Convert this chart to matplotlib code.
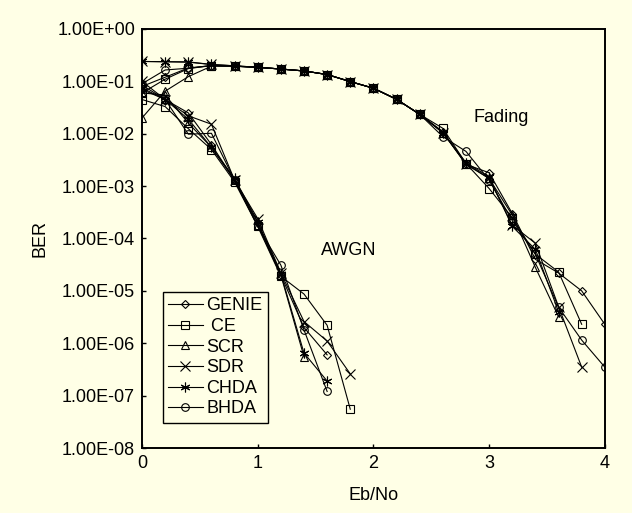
import matplotlib
matplotlib.use('Agg')
import matplotlib.pyplot as plt

# Eb/No points
x_awgn = [0.0, 0.2, 0.4, 0.6, 0.8, 1.0, 1.2, 1.4, 1.6, 1.8]
x_fad = [0.0, 0.2, 0.4, 0.6, 0.8, 1.0, 1.2, 1.4, 1.6, 1.8, 2.0,
         2.2, 2.4, 2.6, 2.8, 3.0, 3.2, 3.4, 3.6, 3.8, 4.0]

# AWGN channel
genie_awgn = [0.085, 0.045, 0.025, 0.0062, 0.0013, 2.0e-4, 2.0e-5, 2.0e-6, 6.0e-7]
ce_awgn = [0.045, 0.033, 0.0125, 0.005, 0.0012, 1.7e-4, 1.9e-5, 8.7e-6, 2.2e-6, 5.5e-8]
scr_awgn = [0.06, 0.055, 0.016, 0.0055, 0.0013, 1.8e-4, 2.0e-5, 5.5e-7]
sdr_awgn = [0.1, 0.045, 0.022, 0.0152, 0.0013, 2.4e-4, 2.2e-5, 2.6e-6, 1.1e-6, 2.6e-7]
chda_awgn = [0.075, 0.045, 0.019, 0.0055, 0.0014, 2.1e-4, 2.1e-5, 6.5e-7, 1.9e-7]
bhda_awgn = [0.07, 0.045, 0.0098, 0.0102, 0.0013, 1.7e-4, 3.1e-5, 1.8e-6, 1.2e-7]

# Fading channel
genie_fad = [0.08, 0.12, 0.18, 0.2, 0.195, 0.185, 0.172, 0.158, 0.135, 0.099, 0.074,
             0.0454, 0.0235, 0.011, 0.0026, 0.0018, 3.0e-4, 4.0e-5, 2.2e-5, 1.0e-5, 2.3e-6]
ce_fad = [0.06, 0.11, 0.175, 0.2, 0.195, 0.185, 0.172, 0.158, 0.135, 0.099, 0.074,
          0.0454, 0.0235, 0.0127, 0.0027, 9.0e-4, 2.5e-4, 5.0e-5, 2.3e-5, 2.3e-6]
scr_fad = [0.02, 0.065, 0.123, 0.195, 0.195, 0.185, 0.172, 0.158, 0.135, 0.099, 0.074,
           0.0454, 0.0235, 0.0105, 0.0027, 0.0014, 2.8e-4, 2.8e-5, 3.2e-6]
sdr_fad = [0.24, 0.237, 0.236, 0.21, 0.198, 0.186, 0.172, 0.158, 0.135, 0.099, 0.074,
           0.0454, 0.0235, 0.0105, 0.0026, 0.0014, 1.8e-4, 8.1e-5, 5.0e-6, 3.5e-7]
chda_fad = [0.24, 0.237, 0.232, 0.21, 0.198, 0.186, 0.172, 0.158, 0.135, 0.099, 0.074,
            0.0454, 0.0235, 0.0105, 0.0028, 0.0015, 1.7e-4, 6.2e-5, 4.0e-6]
bhda_fad = [0.09, 0.165, 0.178, 0.2, 0.195, 0.185, 0.172, 0.158, 0.135, 0.099, 0.074,
            0.0454, 0.0235, 0.0088, 0.0046, 0.0013, 2.2e-4, 5.0e-5, 4.9e-6, 1.15e-6, 3.5e-7]

nombres = ['GENIE', ' CE', 'SCR', 'SDR', 'CHDA', 'BHDA']
marcadores = ['D', 's', '^', 'x', (6, 2, 0), 'o']
tamanos = [4.5, 5.5, 6, 7, 7, 5.5]
curvas_awgn = [genie_awgn, ce_awgn, scr_awgn, sdr_awgn, chda_awgn, bhda_awgn]
curvas_fad = [genie_fad, ce_fad, scr_fad, sdr_fad, chda_fad, bhda_fad]

y_ticks = [1e-8, 1e-7, 1e-6, 1e-5, 1e-4, 1e-3, 1e-2, 1e-1, 1e0]
y_tick_labels = ['1.00E-08', '1.00E-07', '1.00E-06', '1.00E-05', '1.00E-04',
                 '1.00E-03', '1.00E-02', '1.00E-01', '1.00E+00']
x_ticks = [0, 1, 2, 3, 4]

fondo = '#FFFFE6'
plt.rcParams['font.family'] = ['Liberation Sans', 'DejaVu Sans']

fig = plt.figure(figsize=(6.32, 5.13), dpi=100, facecolor=fondo)
ax = fig.add_axes([0.2247, 0.1267, 0.7323, 0.8168])
ax.set_facecolor(fondo)

for nombre, m, ms, ya, yf in zip(nombres, marcadores, tamanos, curvas_awgn, curvas_fad):
    ax.plot(x_awgn[:len(ya)], ya, color='black', lw=0.8, marker=m, ms=ms,
            mfc='none', mec='black', mew=0.8, label=nombre)
    ax.plot(x_fad[:len(yf)], yf, color='black', lw=0.8, marker=m, ms=ms,
            mfc='none', mec='black', mew=0.8)

ax.set_yscale('log')
ax.set_ylim(1e-8, 1)
ax.set_xlim(0, 4)
ax.set_yticks(y_ticks)
ax.set_yticklabels(y_tick_labels)
ax.set_xticks(x_ticks)
ax.minorticks_off()
ax.tick_params(direction='in', length=3, width=1, labelsize=13, pad=5)

for s in ax.spines.values():
    s.set_linewidth(1.4)

ax.set_xlabel('Eb/No', fontsize=13, labelpad=11)
ax.set_ylabel('BER', fontsize=13, labelpad=6)

ax.text(1.79, 6e-5, 'AWGN', fontsize=13, ha='center', va='center')
ax.text(3.1, 2.05e-2, 'Fading', fontsize=13, ha='center', va='center')

leg = ax.legend(loc='lower left', bbox_to_anchor=(0.045, 0.06), fontsize=13,
                frameon=True, fancybox=False, edgecolor='black', facecolor=fondo,
                framealpha=1, handlelength=1.9, handletextpad=0.2,
                labelspacing=0.2, borderpad=0.3, borderaxespad=0)
leg.get_frame().set_linewidth(1.0)

plt.savefig('out.png', dpi=100, facecolor=fondo)
